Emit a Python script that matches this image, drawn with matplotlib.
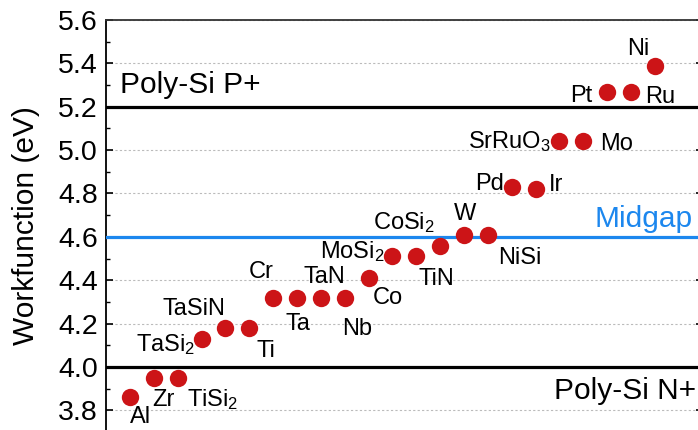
import matplotlib
matplotlib.use('Agg')
import matplotlib.pyplot as plt
from matplotlib.ticker import MultipleLocator

plt.rcParams['font.family'] = ['Liberation Sans', 'DejaVu Sans']
plt.rcParams['mathtext.fontset'] = 'custom'
plt.rcParams['mathtext.rm'] = 'Liberation Sans'
plt.rcParams['mathtext.it'] = 'Liberation Sans:italic'
plt.rcParams['mathtext.bf'] = 'Liberation Sans:bold'

# datos
materiales = ['Al', 'Zr', 'TiSi$_2$', 'TaSi$_2$', 'TaSiN', 'Ti', 'Cr', 'Ta', 'TaN', 'Nb',
              'Co', 'MoSi$_2$', 'TiN', 'CoSi$_2$', 'W', 'NiSi', 'Pd', 'Ir',
              'SrRuO$_3$', 'Mo', 'Pt', 'Ru', 'Ni']
workfunction = [3.86, 3.95, 3.95, 4.13, 4.18, 4.18, 4.32, 4.32, 4.32, 4.32,
                4.41, 4.51, 4.51, 4.56, 4.61, 4.61, 4.83, 4.82,
                5.04, 5.04, 5.27, 5.27, 5.39]
niveles = [5.2, 4.6, 4.0]   # poly-Si P+, midgap, poly-Si N+

# posicion de cada etiqueta respecto a su punto (pixeles, alineacion)
etiquetas = [(11, -26, 'center'), (10, -28, 'center'), (9, -28, 'left'), (-6, -12, 'right'),
             (-31, 13, 'center'), (17, -29, 'center'), (-12, 20, 'center'), (1, -32, 'center'),
             (4, 15, 'center'), (12, -37, 'center'), (19, -26, 'center'), (-8, -2, 'right'),
             (20, -29, 'center'), (-5, 16, 'right'), (1, 15, 'center'), (32, -29, 'center'),
             (-8, -3, 'right'), (13, -2, 'left'), (-9, -7, 'right'), (17, -9, 'left'),
             (-15, -10, 'right'), (14, -11, 'left'), (-17, 11, 'center')]

azul = '#1c87ee'
rojo = '#cc1417'

fig = plt.figure(figsize=(6.98, 4.30), dpi=100)
ax = fig.add_axes([106.1 / 698, -2 / 430, 596.5 / 698, 412 / 430])

x = list(range(1, len(materiales) + 1))
ax.plot(x, workfunction, 'o', color=rojo, markersize=12.5, markeredgewidth=0, zorder=4)

for xi, yi, nombre, (dx, dy, ha) in zip(x, workfunction, materiales, etiquetas):
    ax.annotate(nombre, (xi, yi), xytext=(dx, dy), textcoords='offset pixels',
                ha=ha, va='baseline', fontsize=17)

ax.axhline(niveles[0], color='black', linewidth=2.3, zorder=3)
ax.axhline(niveles[1], color=azul, linewidth=2.3, zorder=3)
ax.axhline(niveles[2], color='black', linewidth=2.3, zorder=3)

ax.text(0.58, 5.263, 'Poly-Si P+', fontsize=21.5, ha='left', va='baseline')
ax.text(24.72, 3.852, 'Poly-Si N+', fontsize=21.5, ha='right', va='baseline')
ax.text(24.6, 4.645, 'Midgap', fontsize=21.5, ha='right', va='baseline', color=azul)

ax.set_xlim(0, 25)
ax.set_ylim(3.7, 5.6)
ax.yaxis.set_major_locator(MultipleLocator(0.2))
ax.yaxis.set_minor_locator(MultipleLocator(0.1))
ax.yaxis.set_major_formatter(matplotlib.ticker.FormatStrFormatter('%.1f'))
ax.set_xticks([])
ax.tick_params(axis='y', which='major', direction='in', length=5, width=1.2,
               labelsize=20.5, pad=6, right=True)
ax.tick_params(axis='y', which='minor', direction='in', length=3, width=1.0, right=True)
ax.grid(True, axis='y', color='#bbbbbb', linestyle=(0, (2, 2)), linewidth=0.8)
ax.set_axisbelow(True)
for lado in ['left', 'right', 'top', 'bottom']:
    ax.spines[lado].set_linewidth(1.3)
ax.spines['top'].set_color('#333333')

ax.set_ylabel('Workfunction (eV)', fontsize=21.5)
ax.yaxis.set_label_coords(-0.111, 0.5)

fig.savefig('out.png', dpi=100)
plt.close()
